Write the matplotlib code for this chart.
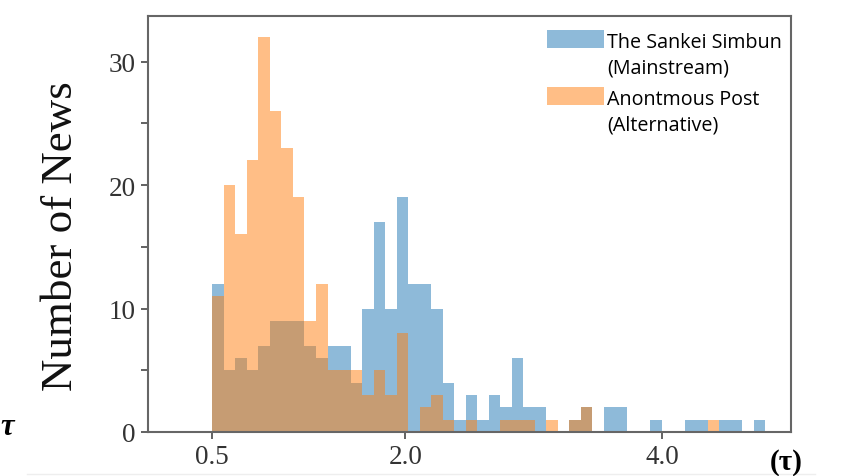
import numpy as np
import matplotlib
matplotlib.use("Agg")
import matplotlib.pyplot as plt
from matplotlib.lines import Line2D
from matplotlib.patches import Rectangle
from matplotlib.legend_handler import HandlerPatch

# Histogram bins: 48 equal bins from 0.5 to 4.8
bin_start = 0.5
bin_end = 4.8
n_bins = 48

mainstream_counts = [12, 5, 6, 5, 7, 9, 9, 9, 7, 6, 7, 7, 4, 10, 17, 10, 19, 12,
                     12, 10, 4, 1, 3, 1, 3, 2, 6, 2, 2, 0, 0, 1, 2, 0, 2, 2,
                     0, 0, 1, 0, 0, 1, 1, 0, 1, 1, 0, 1]
alternative_counts = [11, 20, 16, 22, 32, 26, 23, 19, 9, 12, 5, 5, 5, 3, 5, 3, 8, 0,
                      2, 3, 1, 0, 1, 0, 0, 1, 1, 1, 0, 1, 0, 1, 2, 0, 0, 0,
                      0, 0, 0, 0, 0, 0, 0, 1, 0, 0, 0, 0]

label_main = "The Sankei Simbun\n(Mainstream)"
label_alt = "Anontmous Post\n(Alternative)"
x_ticks = [0.5, 2.0, 4.0]
x_tick_labels = ["0.5", "2.0", "4.0"]
y_ticks = [0, 5, 10, 15, 20, 25, 30]
y_tick_labels = ["0", "", "10", "", "20", "", "30"]

edges = np.linspace(bin_start, bin_end, n_bins + 1)
centers = (edges[:-1] + edges[1:]) / 2

fig = plt.figure(figsize=(8.42, 4.77), dpi=100)
ax = fig.add_axes([148 / 842, 1 - 433 / 477, (791 - 148) / 842, (433 - 17) / 477])

ax.hist(centers, bins=edges, weights=mainstream_counts, color="#1f77b4", alpha=0.5,
        label=label_main)
ax.hist(centers, bins=edges, weights=alternative_counts, color="#ff7f0e", alpha=0.5,
        label=label_alt)

ax.set_xlim(0, 5)
ax.set_ylim(0, 33.7)

serif = ["Liberation Serif", "DejaVu Serif"]
ax.set_xticks(x_ticks)
ax.set_xticklabels(x_tick_labels, fontsize=19.5, family=serif, color="#333333")
ax.set_yticks(y_ticks)
ax.set_yticklabels(y_tick_labels, fontsize=19.5, family=serif, color="#333333")
ax.tick_params(axis="both", direction="out", length=5, width=1.3, color="#555555", pad=4)
ax.set_ylabel("Number of News", fontsize=32.4, family=serif, color="#111111", labelpad=20)
ax.yaxis.label.set_y(0.474)

for s in ax.spines.values():
    s.set_color("#666666")
    s.set_linewidth(1.5)

LINESP = 1.4


def top_rect(legend, orig_handle, xdescent, ydescent, width, height, fontsize):
    bottom = 0.7 * fontsize
    h = 0.95 * fontsize
    return Rectangle((-xdescent, bottom), width, h)


leg = ax.legend(loc="upper right", frameon=False,
                prop={"family": "Open Sans", "size": 14.2},
                handlelength=2.9, handletextpad=0.15,
                labelspacing=0.55, borderaxespad=0.4, bbox_to_anchor=(1.011, 1.0),
                handler_map={Rectangle: HandlerPatch(patch_func=top_rect)})
for t in leg.get_texts():
    t.set_linespacing(LINESP)

fig.text(0.0, 1 - 428 / 477, "τ", fontsize=22,
         family=serif, style="italic", weight="bold", va="center", ha="left")
fig.text(786 / 842, 1 - 463 / 477, "(τ)", fontsize=21, family=serif, weight="bold",
         va="center", ha="center")

fig.add_artist(Line2D([27 / 842, 815 / 842], [1 - 475 / 477, 1 - 475 / 477],
                      transform=fig.transFigure, color="#eeeeee", linewidth=1))

fig.savefig("out.png", dpi=100)
